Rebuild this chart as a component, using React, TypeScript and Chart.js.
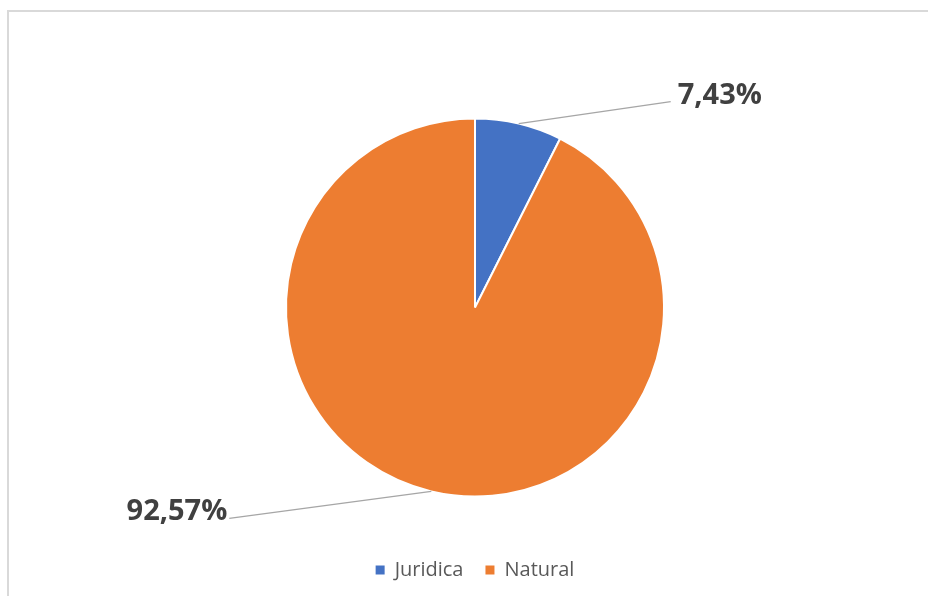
import React, { useEffect, useRef } from "react";
import { Chart, registerables } from "chart.js";

Chart.register(...registerables);

const categories = ["Juridica", "Natural"];
const values = [7.43, 92.57];
const valueLabels = ["7,43%", "92,57%"];
const colors = ["#4472C4", "#ED7D31"];

// leader line end offsets relative to the slice edge midpoint
const leaderOffsets = [
  { dx: 152, dy: -22, side: "right" },
  { dx: -202, dy: 27, side: "left" },
];

const labelPlugin = {
  id: "leaderLabels",
  afterDatasetsDraw(chart: any) {
    const ctx = chart.ctx;
    const meta = chart.getDatasetMeta(0);
    meta.data.forEach((arc: any, i: number) => {
      const { x, y, startAngle, endAngle, outerRadius } = arc.getProps(
        ["x", "y", "startAngle", "endAngle", "outerRadius"],
        true
      );
      const mid = (startAngle + endAngle) / 2;
      const ex = x + outerRadius * Math.cos(mid);
      const ey = y + outerRadius * Math.sin(mid);
      const off = leaderOffsets[i];
      const lx = ex + off.dx;
      const ly = ey + off.dy;
      ctx.save();
      ctx.strokeStyle = "#a6a6a6";
      ctx.lineWidth = 1.5;
      ctx.beginPath();
      ctx.moveTo(ex, ey);
      ctx.lineTo(lx, ly);
      ctx.stroke();
      ctx.fillStyle = "#404040";
      ctx.font = "bold 29px 'Open Sans'";
      ctx.textBaseline = "middle";
      if (off.side === "right") {
        ctx.textAlign = "left";
        ctx.fillText(valueLabels[i], lx + 7, ly - 6);
      } else {
        ctx.textAlign = "right";
        ctx.fillText(valueLabels[i], lx - 2, ly - 7);
      }
      ctx.restore();
    });
  },
};

export default function App() {
  const ref = useRef<HTMLCanvasElement>(null);
  useEffect(() => {
    if (!ref.current) return;
    const chart = new Chart(ref.current, {
      type: "pie",
      data: {
        labels: categories,
        datasets: [
          {
            data: values,
            backgroundColor: colors,
            borderColor: "#ffffff",
            borderWidth: 2,
          },
        ],
      },
      options: {
        animation: false,
        responsive: false,
        layout: { padding: { left: 285, right: 263, top: 77, bottom: 6 } },
        plugins: {
          tooltip: { enabled: false },
          legend: {
            position: "bottom",
            labels: {
              boxWidth: 9,
              boxHeight: 9,
              padding: 22,
              color: "#595959",
              font: { family: "'Open Sans'", size: 20 },
              generateLabels(chart: any) {
                const items = Chart.overrides.pie.plugins.legend.labels.generateLabels(chart);
                return items.map((it: any) => ({ ...it, lineWidth: 0, strokeStyle: "rgba(0,0,0,0)" }));
              },
            },
          },
        },
      },
      plugins: [labelPlugin],
    });
    return () => chart.destroy();
  }, []);
  return (
    <div style={{ position: "fixed", left: 0, top: 0, width: 928, height: 596, overflow: "hidden", background: "#fff" }}>
      <div
        style={{
          position: "absolute",
          left: 7,
          top: 10,
          width: 940,
          height: 620,
          border: "2px solid #d9d9d9",
        }}
      />
      <canvas ref={ref} width={928} height={596} style={{ position: "absolute", left: 0, top: 0 }} />
    </div>
  );
}
